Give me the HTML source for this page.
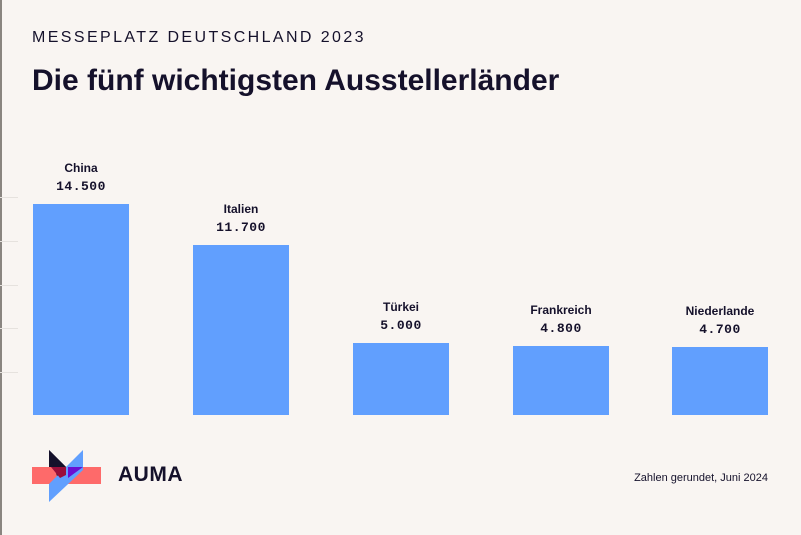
<!DOCTYPE html>
<html><head><meta charset="utf-8"><style>
body{margin:0;width:801px;height:535px;background:#f9f5f2;position:relative;overflow:hidden;font-family:"Liberation Sans",sans-serif;color:#15112b}
.b{position:absolute;background:#619ffe;width:96px;bottom:120px}
.n{position:absolute;width:96px;text-align:center;font-size:12px;font-weight:bold}
.v{position:absolute;width:96px;text-align:center;font-size:13px;font-weight:bold;font-family:"Liberation Mono",monospace;letter-spacing:0.5px}
.g{position:absolute;left:0;width:18px;height:1px;background:#e6e2de}
</style></head><body>
<div style="position:absolute;left:0;top:0;width:2px;height:535px;background:#8a8580"></div>
<div style="position:absolute;left:32px;top:29px;font-size:16px;letter-spacing:2.4px">MESSEPLATZ DEUTSCHLAND 2023</div>
<div style="position:absolute;left:32px;top:64px;font-size:30px;font-weight:bold">Die fünf wichtigsten Ausstellerländer</div>
<div class="g" style="top:197px"></div><div class="g" style="top:241px"></div><div class="g" style="top:285px"></div><div class="g" style="top:328px"></div><div class="g" style="top:372px"></div>
<div class="b" style="left:33px;top:204px"></div><div class="n" style="left:33px;top:161px">China</div><div class="v" style="left:33px;top:179px">14.500</div>
<div class="b" style="left:193px;top:245px"></div><div class="n" style="left:193px;top:202px">Italien</div><div class="v" style="left:193px;top:220px">11.700</div>
<div class="b" style="left:353px;top:343px"></div><div class="n" style="left:353px;top:300px">Türkei</div><div class="v" style="left:353px;top:318px">5.000</div>
<div class="b" style="left:513px;top:346px"></div><div class="n" style="left:513px;top:303px">Frankreich</div><div class="v" style="left:513px;top:321px">4.800</div>
<div class="b" style="left:672px;top:347px"></div><div class="n" style="left:672px;top:304px">Niederlande</div><div class="v" style="left:672px;top:322px">4.700</div>
<svg style="position:absolute;left:0;top:0" width="801" height="535">
<rect x="32" y="467" width="69" height="17" fill="#fe6a6a"/>
<polygon points="83,450 83,470 49,502 49,484" fill="#619ffe"/>
<polygon points="49,450 66,467 49,467" fill="#15112b"/>
<polygon points="49,450 66,467 57,476" fill="#15112b"/>
<polygon points="83,467 68,467 68,478" fill="#6a0fd2"/>
<polygon points="51,467 66,467 66,475 60,478" fill="#9b0f3a"/>
</svg>
<div style="position:absolute;left:118px;top:463px;font-size:21px;font-weight:bold;letter-spacing:0.5px">AUMA</div>
<div style="position:absolute;right:33px;top:472px;font-size:11px">Zahlen gerundet, Juni 2024</div>
</body></html>
